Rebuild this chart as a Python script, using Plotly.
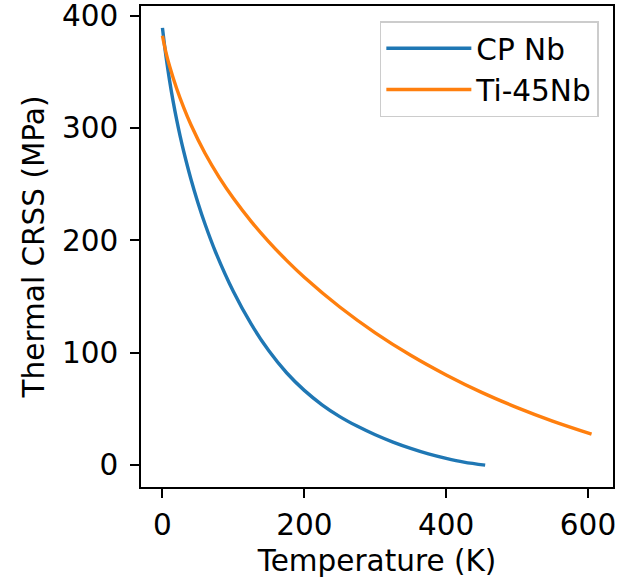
import plotly.graph_objects as go

# CP Nb
cp_T = [0, 5, 10, 15, 20, 25, 30, 40, 50, 60, 75, 100, 125, 150, 175, 200, 225, 250, 275, 300, 325, 350, 375, 400, 425, 455]
cp_tau = [389, 363.5, 342.3, 323.8, 307.3, 292.5, 279, 254.8, 233.5, 214.5, 189.4, 154.4, 125.6, 101.7,
          82.2, 66.5, 53.7, 43.2, 34.5, 27, 20.5, 14.9, 10, 6, 2.7, 0]

# Ti-45Nb
ti_T = [0, 5, 10, 20, 30, 40, 60, 80, 100, 125, 150, 175, 200, 250, 300, 350, 400, 450, 500, 550, 605]
ti_tau = [382, 367, 355, 335, 318, 303, 277.4, 256, 237.4, 216.9, 198.7, 182.2, 167.2, 140.7, 117.7, 97.7, 80.2, 64.7, 51.2, 39.2, 27.6]

x_ticks = [0, 200, 400, 600]
y_ticks = [0, 100, 200, 300, 400]

FONT = "DejaVu Sans"
FS = 29.5
fig = go.Figure()
fig.add_trace(go.Scatter(x=cp_T, y=cp_tau, mode="lines", name="CP Nb",
                         line=dict(color="#1f77b4", width=3.4, shape="spline", smoothing=1.0)))
fig.add_trace(go.Scatter(x=ti_T, y=ti_tau, mode="lines", name="Ti-45Nb",
                         line=dict(color="#ff7f0e", width=3.4, shape="spline", smoothing=1.0)))

axis_common = dict(showline=True, linecolor="black", linewidth=1.6, mirror=True,
                   ticks="outside", ticklen=9, tickwidth=1.6, tickcolor="black",
                   showgrid=False, zeroline=False, automargin=False,
                   ticklabeloverflow="allow",
                   tickfont=dict(family=FONT, size=FS, color="black"))

fig.update_layout(
    width=628, height=578,
    margin=dict(l=141, r=15, t=6, b=91),
    paper_bgcolor="white", plot_bgcolor="white",
    font=dict(family=FONT, color="black"),
    xaxis=dict(range=[-30.25, 635.25], tickvals=x_ticks, ticklabelstandoff=2,
               title=dict(text="Temperature (K)", font=dict(family=FONT, size=FS, color="black"), standoff=22),
               **axis_common),
    yaxis=dict(range=[-19.45, 408.45], tickvals=y_ticks, ticklabelstandoff=6,
               title=dict(text="Thermal CRSS (MPa)", font=dict(family=FONT, size=FS, color="black"), standoff=9),
               **axis_common),
    legend=dict(x=0.97, y=0.9688, xanchor="right", yanchor="top",
                bgcolor="rgba(255,255,255,0.8)", bordercolor="#cccccc", borderwidth=1.5,
                font=dict(family=FONT, size=FS, color="black"), itemwidth=85,
                tracegroupgap=0),
)

fig.write_html("out.html")
